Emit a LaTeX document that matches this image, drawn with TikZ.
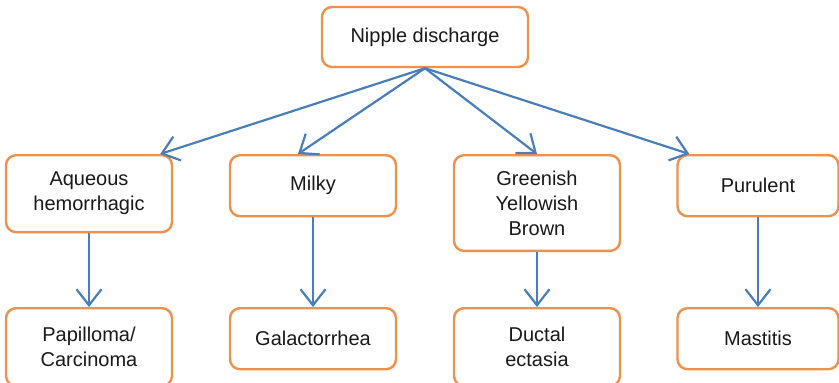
\documentclass[tikz,border=0pt]{standalone}
\usepackage{xcolor}
\usepackage{fontspec}
\setmainfont{Liberation Sans}
\usepackage{tikz}
\usetikzlibrary{positioning,arrows.meta}
\definecolor{boxorange}{HTML}{F0914B}
\definecolor{linkblue}{HTML}{4A7EBB}

\begin{document}
\begin{tikzpicture}[x=1pt,y=-1pt,
		box/.style={draw=boxorange, line width=2.4pt, rounded corners=10pt, fill=white,
			align=center, minimum width=166pt, minimum height=61pt, inner ysep=17pt,
			text=black!90, font=\fontsize{20}{25}\selectfont},
		link/.style={draw=linkblue, line width=2.2pt, -{Straight Barb[length=16pt,width=25pt,line width=2.2pt]}}]
		\useasboundingbox (0,0) rectangle (839,383);
		% top
		\node [box, minimum width=206pt, minimum height=60pt] (d) at (425,37) {Nipple discharge};
		% second row
		\node [box, anchor=north] (a1) at (89,154) {Aqueous\\hemorrhagic};
		\node [box, anchor=north] (a2) at (313,154) {Milky};
		\node [box, anchor=north, inner ysep=15.5pt] (a3) at (537,154) {Greenish\\Yellowish\\Brown};
		\node [box, anchor=north, minimum width=161pt] (a4) at (758,154) {Purulent};
		% third row
		\node [box, inner ysep=19pt, below=153pt of a1.north] (b1) {Papilloma/\\Carcinoma};
		\node [box, below=153pt of a2.north] (b2) {Galactorrhea};
		\node [box, inner ysep=19pt, below=153pt of a3.north] (b3) {Ductal\\ectasia};
		\node [box, minimum width=161pt, below=153pt of a4.north] (b4) {Mastitis};
		\draw [link] (d.south) -- ([xshift=-13pt]a1.north east);
		\draw [link] (d.south) -- ([xshift=-15pt]a2.north);
		\draw [link] (d.south) -- (a3.north);
		\draw [link] (d.south) -- ([xshift=13pt]a4.north west);
		\draw [link] (a1) -- (b1);
		\draw [link] (a2) -- (b2);
		\draw [link] (a3) -- (b3);
		\draw [link] (a4) -- (b4);
	\end{tikzpicture}
\end{document}
